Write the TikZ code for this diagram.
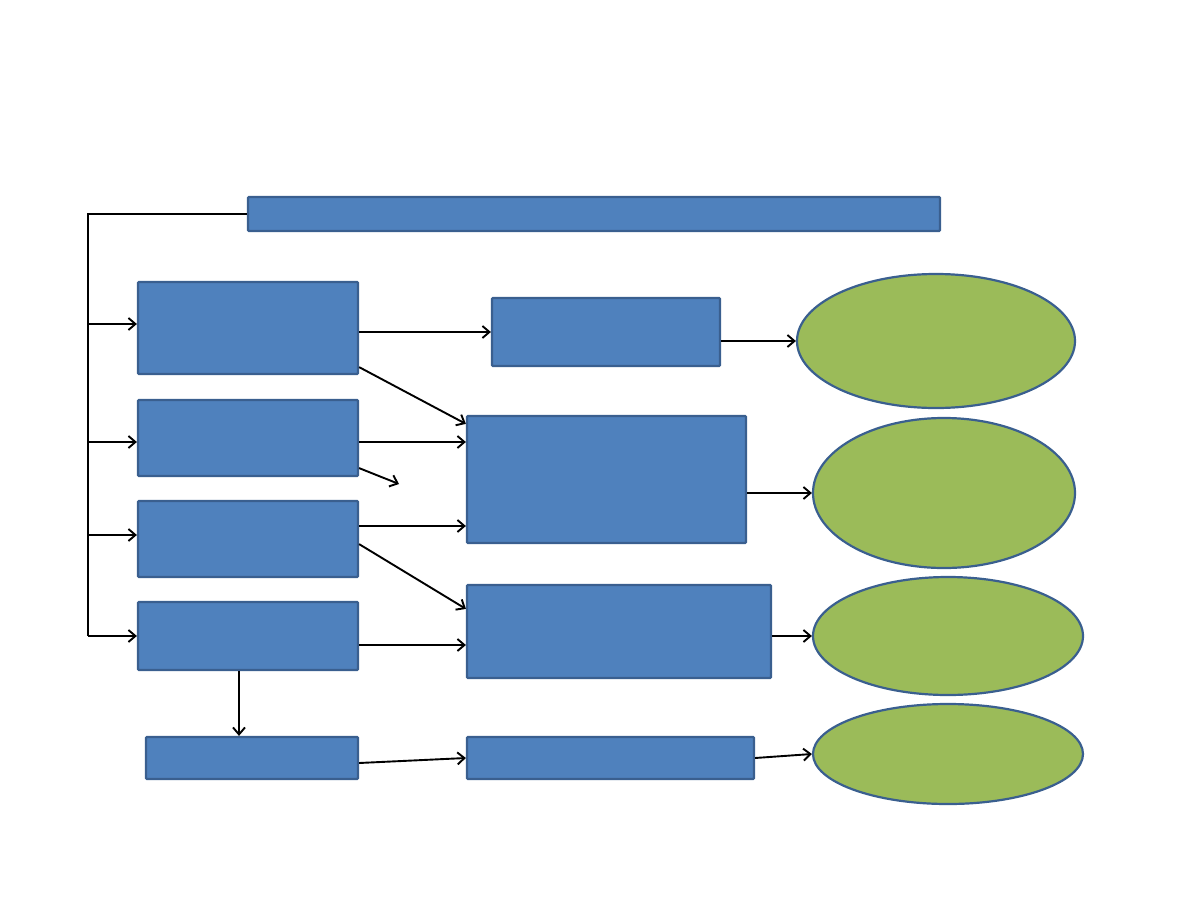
\documentclass[tikz,border=0pt]{standalone}
\usetikzlibrary{arrows.meta,shapes.geometric}

\definecolor{boxblue}{HTML}{4F81BD}
\definecolor{edgeblue}{HTML}{3A5F8F}
\definecolor{leafgreen}{HTML}{9BBB59}

\tikzset{
  box/.style={draw=edgeblue, fill=boxblue, line width=2.2pt, rounded corners=1pt, inner sep=0pt},
  leaf/.style={draw=edgeblue, fill=leafgreen, line width=2.2pt, ellipse, inner sep=0pt},
  arr/.style={-{Straight Barb[length=7pt,width=12pt]}, line width=1.9pt},
  link/.style={line width=1.9pt}
}

\begin{document}
\begin{tikzpicture}[x=1pt, y=-1pt]
    \useasboundingbox (0,0) rectangle (1188,918);

    % --- top bar and left column ---
    \node[box, minimum width=692, minimum height=34] (top) at (594,214) {};
    \node[box, minimum width=220, minimum height=92] (b1) at (248,328) {};
    \node[box, minimum width=220, minimum height=76] (b2) at (248,438) {};
    \node[box, minimum width=220, minimum height=76] (b3) at (248,539) {};
    \node[box, minimum width=220, minimum height=68] (b4) at (248,636) {};
    \node[box, minimum width=212, minimum height=42] (b5) at (252,758) {};

    % --- middle column ---
    \node[box, minimum width=228, minimum height=68] (m1) at (606,332) {};
    \node[box, minimum width=279, minimum height=127] (m2) at (606.5,479.5) {};
    \node[box, minimum width=304, minimum height=93] (m3) at (619,631.5) {};
    \node[box, minimum width=287, minimum height=42] (m4) at (610.5,758) {};

    % --- outcomes ---
    \node[leaf, minimum width=278, minimum height=134] (e1) at (936,341) {};
    \node[leaf, minimum width=262, minimum height=150] (e2) at (944,493) {};
    \node[leaf, minimum width=270, minimum height=118] (e3) at (948,636) {};
    \node[leaf, minimum width=270, minimum height=100] (e4) at (948,754) {};

    % --- feed bus on the left ---
    \coordinate (bus) at (88,214);
    \coordinate (busend) at (88,636);
    \draw[link] (top.west) -- (bus) -- (busend);
    \foreach \n/\dy in {b1/4,b2/-4,b3/4,b4/0}
      \draw[arr] ([yshift=\dy pt]bus |- \n.west) -- ([yshift=\dy pt]\n.west);

    % --- left to middle ---
    \coordinate (b2out) at ([yshift=-4pt]b2.east);
    \coordinate (b3out) at ([yshift=13pt]b3.east);
    \coordinate (b4out) at ([yshift=-9pt]b4.east);
    \coordinate (stub) at (399,484);
    \draw[arr] ([yshift=-4pt]b1.east) -- (m1.west);
    \draw[arr] ([yshift=8pt]b1.south east) -- ([yshift=-9pt]m2.north west);
    \draw[arr] (b2out) -- (m2.west |- b2out);
    \draw[arr] ([yshift=9pt]b2.south east) -- (stub);
    \draw[arr] (b3out) -- (m2.west |- b3out);
    \draw[arr] ([yshift=34pt]b3.south east) -- ([yshift=-25pt]m3.north west);
    \draw[arr] (b4out) -- (m3.west |- b4out);
    \draw[arr] (b4.south -| 239,0) -- (b5.north -| 239,0);
    \draw[arr] ([yshift=-5pt]b5.east) -- (m4.west);

    % --- middle to outcomes ---
    \draw[arr] ([yshift=-9pt]m1.east) -- (e1.west);
    \draw[arr] ([yshift=-13.5pt]m2.east) -- (e2.west);
    \draw[arr] ([yshift=-4.5pt]m3.east) -- (e3.west);
    \draw[arr] (m4.east) -- (e4.west);
\end{tikzpicture}
\end{document}
